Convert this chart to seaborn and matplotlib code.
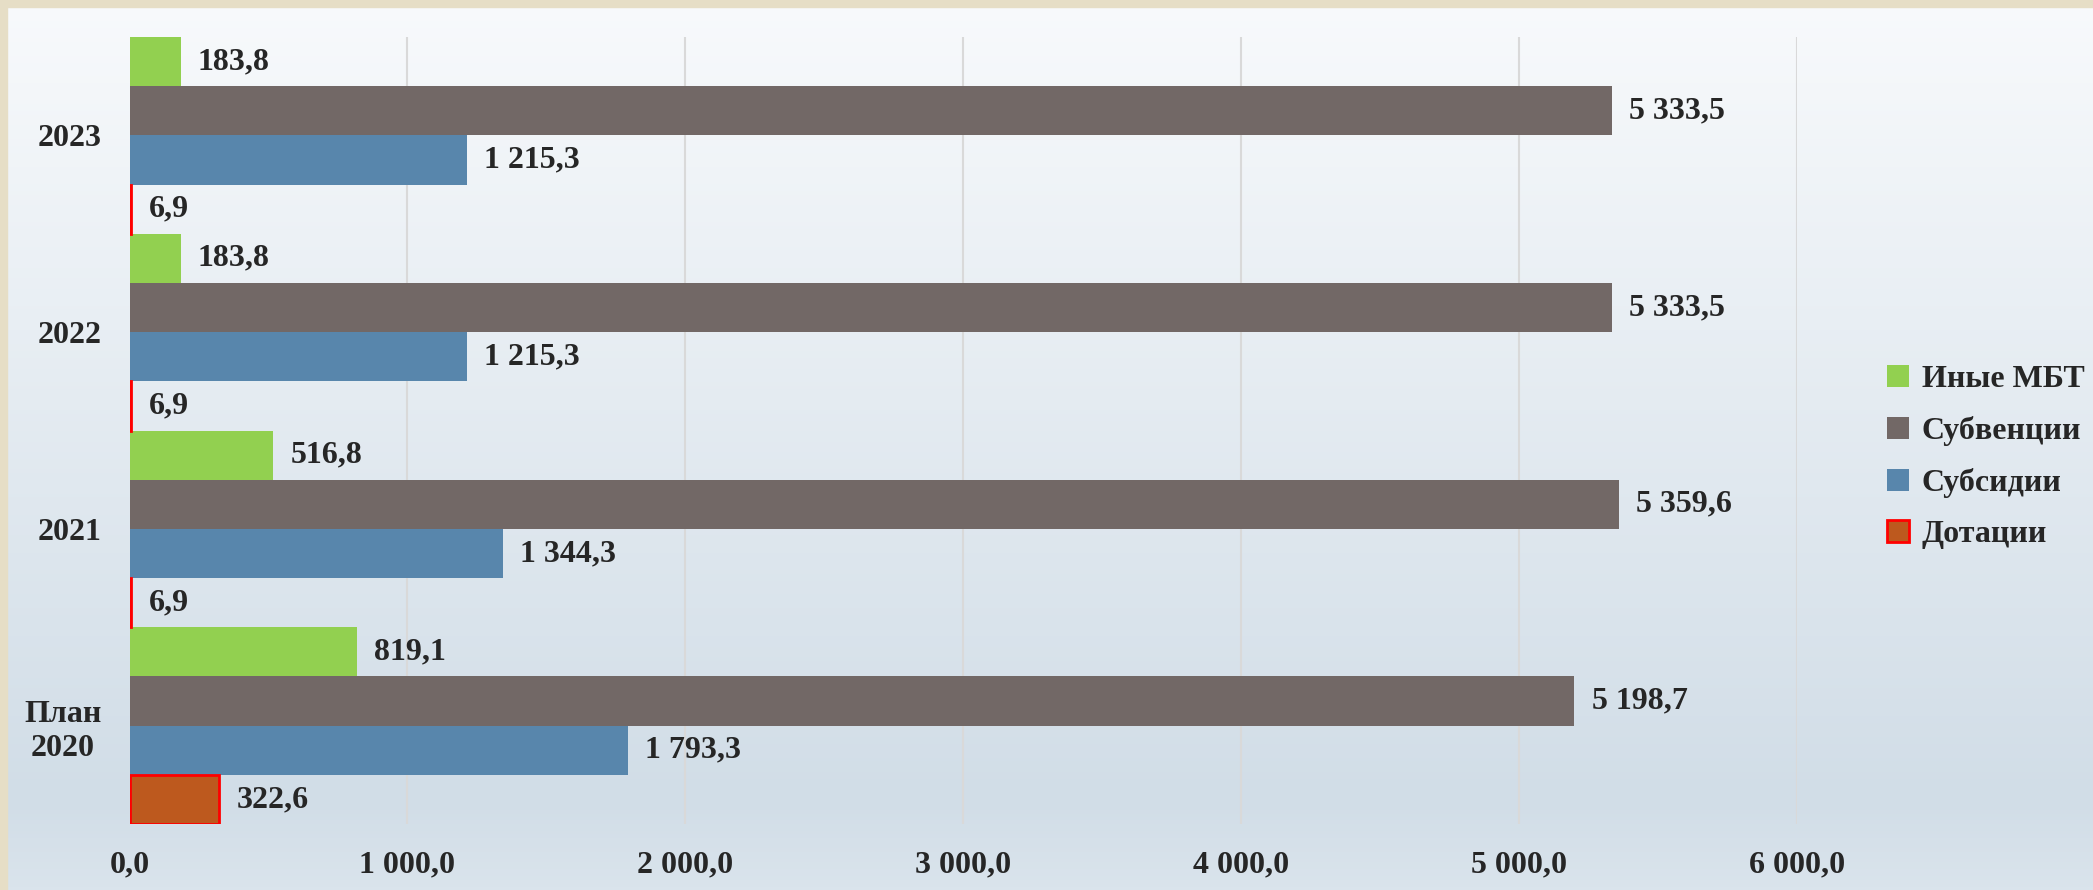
import numpy as np
import pandas as pd
import matplotlib
matplotlib.use("Agg")
import matplotlib.pyplot as plt
from matplotlib.patches import Patch, Rectangle
import seaborn as sns

# data
years = ["2023", "2022", "2021", "План\n2020"]
series = ["Иные МБТ", "Субвенции", "Субсидии", "Дотации"]
inye_mbt = [183.8, 183.8, 516.8, 819.1]
subvencii = [5333.5, 5333.5, 5359.6, 5198.7]
subsidii = [1215.3, 1215.3, 1344.3, 1793.3]
dotacii = [6.9, 6.9, 6.9, 322.6]
xticks = [0, 1000, 2000, 3000, 4000, 5000, 6000]

colors = ["#92D050", "#726866", "#5886AC", "#BD591E"]

df = pd.DataFrame({
    "year": years * 4,
    "series": np.repeat(series, 4),
    "value": inye_mbt + subvencii + subsidii + dotacii,
})

sns.set_theme(style="white")
plt.rcParams["font.family"] = ["Liberation Serif", "DejaVu Serif"]
plt.rcParams["font.weight"] = "bold"

def fmt(v):
    return f"{v:,.1f}".replace(",", " ").replace(".", ",")

fig = plt.figure(figsize=(20.93, 8.9), dpi=100)

# background: gradient + beige frame
bg = fig.add_axes([0, 0, 1, 1], zorder=-5)
grad = np.linspace(0, 1, 256).reshape(-1, 1)
top = np.array([248, 250, 252]) / 255
mid = np.array([209, 221, 231]) / 255
bot = np.array([218, 228, 236]) / 255
g = np.where(grad < 0.9, grad / 0.9, 1.0)
col = top + (mid - top) * g[..., None]
col = np.where((grad > 0.9)[..., None], mid + (bot - mid) * ((grad - 0.9) / 0.1)[..., None], col)
bg.imshow(col, aspect="auto", extent=[0, 1, 0, 1])
bg.add_patch(Rectangle((0, 0), 7 / 2093, 1, color="#E6DEC6", transform=bg.transAxes))
bg.add_patch(Rectangle((0, 1 - 7 / 890), 1, 7 / 890, color="#E6DEC6", transform=bg.transAxes))
bg.set_axis_off()

ax = fig.add_axes([129.5 / 2093, 66 / 890, (1797 - 129.5) / 2093, (824 - 37) / 890])
ax.patch.set_alpha(0)
sns.barplot(data=df, y="year", x="value", hue="series", order=years,
            hue_order=series, palette=colors, orient="h", width=1.0,
            dodge=True, saturation=1, ax=ax, legend=False, linewidth=0)

# red outline for Дотации
for bar in ax.containers[3]:
    bar.set_edgecolor("#FF0000")
    bar.set_linewidth(2)

for cont in ax.containers:
    for bar in cont:
        w = bar.get_width()
        ax.text(w + 62, bar.get_y() + bar.get_height() / 2, fmt(w),
                va="center", ha="left", fontsize=23, fontweight="bold")

ax.set_xlim(0, 6000)
ax.set_xticks(xticks)
ax.set_xticklabels([fmt(t) for t in xticks], fontsize=23, fontweight="bold")
ax.set_yticks(range(len(years)))
ax.set_yticklabels(years, fontsize=23, fontweight="bold", multialignment="center")
ax.tick_params(axis="x", length=0, pad=19)
ax.tick_params(axis="y", length=0, pad=20)
ax.set_xlabel("")
ax.set_ylabel("")
ax.grid(axis="x", color="#D9D9D9", linewidth=1.5)
ax.set_axisbelow(True)
for s in ax.spines.values():
    s.set_visible(False)

handles = [Patch(facecolor=c, edgecolor=("#FF0000" if i == 3 else c), linewidth=2 if i == 3 else 0)
           for i, c in enumerate(colors)]
fig.legend(handles, series, loc="center left", bbox_to_anchor=(1858 / 2093, 1 - 457 / 890),
           frameon=False, prop={"size": 23, "weight": "bold"}, handlelength=0.7,
           handleheight=0.7, handletextpad=0.4, labelspacing=0.68)

fig.savefig("out.png", dpi=100)
